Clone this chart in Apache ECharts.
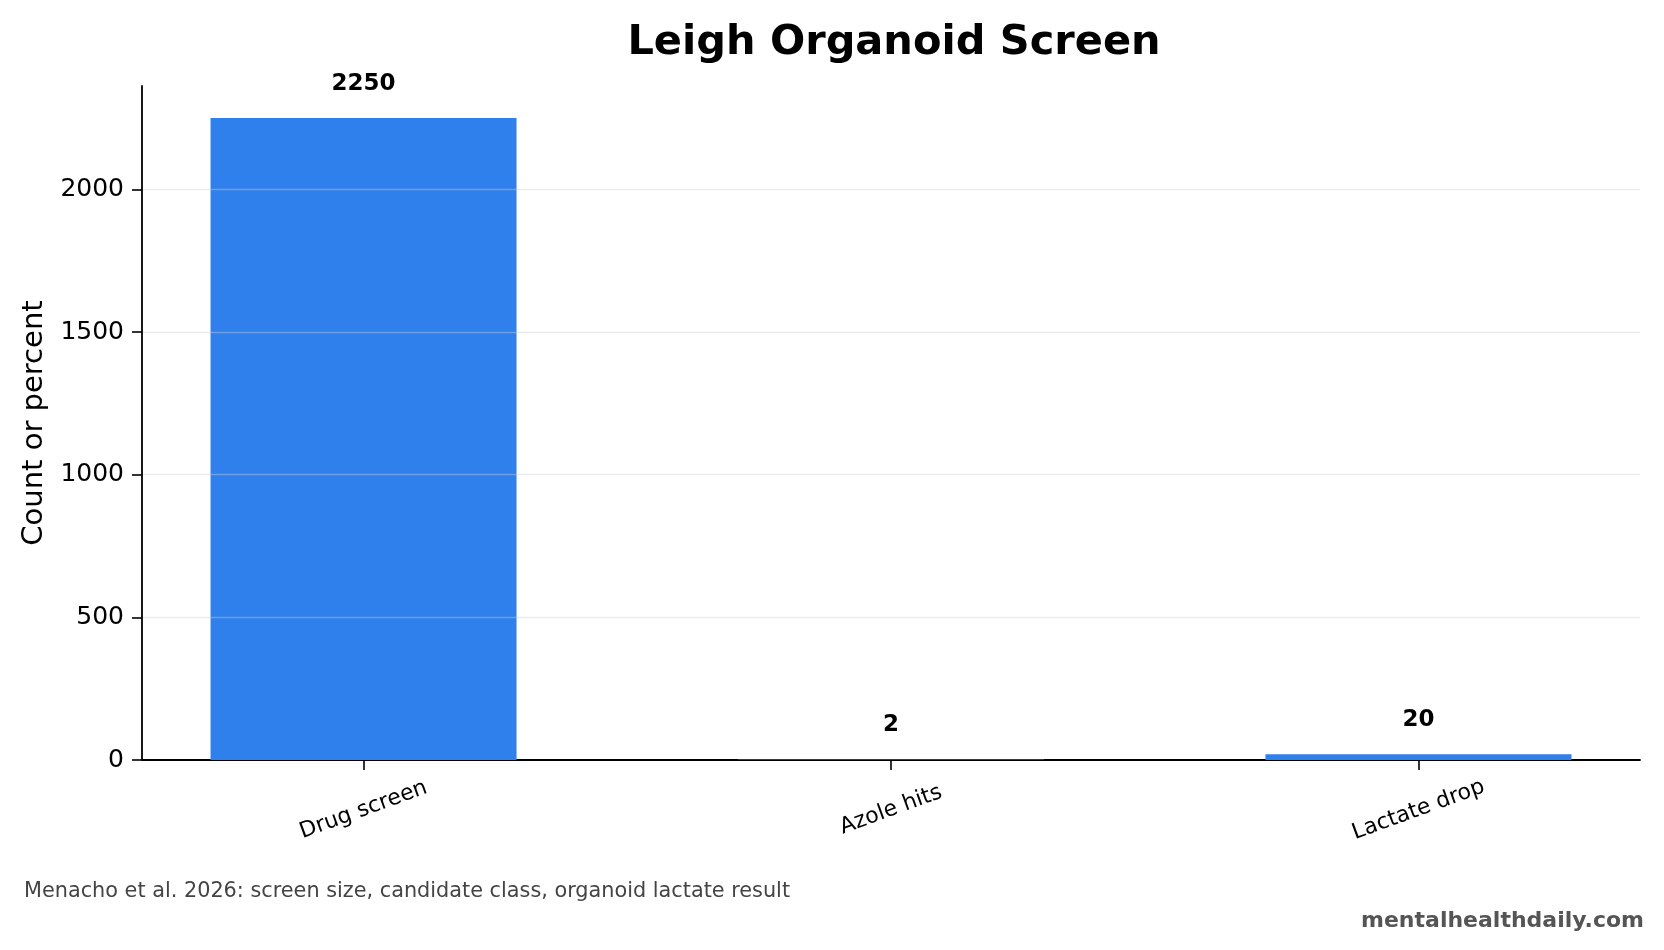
<!DOCTYPE html>
<html>
<head>
<meta charset="utf-8">
<script src="https://cdn.jsdelivr.net/npm/echarts@6/dist/echarts.min.js"></script>
<style>
html,body{margin:0;padding:0;background:#fff;}
#chart{width:1664px;height:950px;}
</style>
</head>
<body>
<div id="chart"></div>
<script>
const categories = ['Drug screen', 'Azole hits', 'Lactate drop'];
const values = [2250, 2, 20];
const yTicks = [0, 500, 1000, 1500, 2000];
const titleText = 'Leigh Organoid Screen';
const yName = 'Count or percent';
const caption = 'Menacho et al. 2026: screen size, candidate class, organoid lactate result';
const watermark = 'mentalhealthdaily.com';

const FONT = 'DejaVu Sans';
const positions = categories.map((c, i) => i);
const seriesData = values.map((v, i) => [positions[i], v]);

const chart = echarts.init(document.getElementById('chart'), null, {renderer: 'canvas'});
chart.setOption({
  animation: false,
  backgroundColor: '#ffffff',
  textStyle: {fontFamily: FONT},
  title: {
    text: titleText,
    left: 889,
    textAlign: 'center',
    top: 17,
    textStyle: {fontFamily: FONT, fontSize: 41.5, fontWeight: 'bold', color: '#000'}
  },
  grid: {left: 142, right: 24, top: 86, bottom: 190, containLabel: false},
  xAxis: {
    type: 'value',
    min: -0.42,
    max: 2.42,
    splitLine: {show: false},
    axisLine: {show: true, onZero: false, lineStyle: {color: '#000', width: 1.8}},
    axisTick: {show: true, customValues: positions, length: 10, lineStyle: {color: '#000', width: 1.6}},
    axisLabel: {
      show: true,
      customValues: positions,
      rotate: 20,
      align: 'center',
      verticalAlign: 'middle',
      margin: 50,
      fontFamily: FONT,
      fontSize: 22,
      color: '#000',
      formatter: v => categories[Math.round(v)]
    }
  },
  yAxis: {
    type: 'value',
    min: 0,
    max: 2362.5,
    interval: 500,
    z: 3,
    name: yName,
    nameLocation: 'middle',
    nameRotate: 90,
    nameGap: 93,
    nameTextStyle: {fontFamily: FONT, fontSize: 29, color: '#000'},
    axisLine: {show: true, onZero: false, lineStyle: {color: '#000', width: 1.8}},
    axisTick: {show: true, length: 10, lineStyle: {color: '#000', width: 1.6}},
    axisLabel: {show: true, showMaxLabel: false, margin: 18, padding: [5, 0, 0, 0], fontFamily: FONT, fontSize: 25, color: '#000',
      formatter: v => (yTicks.indexOf(v) >= 0 ? String(v) : '')},
    splitLine: {show: true, showMinLine: false, showMaxLine: false,
      lineStyle: {color: 'rgba(204,204,204,0.4)', width: 1.4}}
  },
  series: [{
    type: 'bar',
    data: seriesData,
    barWidth: 306,
    itemStyle: {color: '#2F80ED'},
    label: {
      show: true,
      position: 'top',
      distance: 23,
      fontFamily: FONT,
      fontSize: 23,
      fontWeight: 'bold',
      color: '#000',
      formatter: p => String(p.value[1])
    }
  }],
  graphic: [
    {type: 'text', left: 24, top: 881, style: {text: caption, fontFamily: FONT, fontSize: 20.8, fill: '#444'}},
    {type: 'text', right: 20, top: 910, style: {text: watermark, fontFamily: FONT, fontSize: 22, fontWeight: 'bold', fill: '#555'}}
  ]
});
</script>
</body>
</html>
